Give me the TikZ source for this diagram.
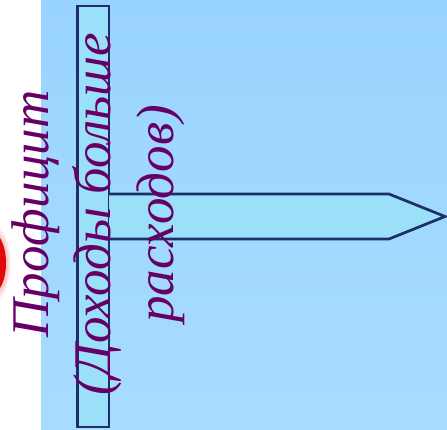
\documentclass[tikz,border=0pt]{standalone}
\usepackage{fontspec}
\setmainfont{Liberation Serif}
\definecolor{bgtop}{RGB}{153,212,255}
\definecolor{bgbot}{RGB}{168,220,255}
\definecolor{shapefill}{RGB}{153,224,248}
\definecolor{navy}{RGB}{31,45,105}
\definecolor{plum}{RGB}{102,0,102}
\definecolor{blobred}{RGB}{225,10,10}
\tikzset{
  panel/.style={draw=navy, line width=2.7pt, fill=shapefill, line join=miter},
  vlabel/.style={rotate=90, anchor=base, text=plum, font=\fontsize{53}{60}\selectfont\itshape, inner sep=0pt}
}
\begin{document}
\begin{tikzpicture}[x=1pt,y=1pt]
\useasboundingbox (0,0) rectangle (447,429);
\begin{scope}
\clip (0,0) rectangle (447,429);
\fill[white] (0,0) rectangle (41,429);
\shade[inner color=blobred, outer color=white] (-8,166) ellipse [x radius=19, y radius=40];
\fill[blobred] (-10,166) ellipse [x radius=16, y radius=32];
\shade[top color=bgtop, bottom color=bgbot] (41,0) rectangle (447,429);
\end{scope}
\node[panel, minimum width=31.5pt, minimum height=421pt, inner sep=0pt] (post) at (93.25,212.5) {};
\coordinate (a1) at (109,235);
\coordinate (a2) at (389,235);
\coordinate (tip) at (445,212.5);
\coordinate (a3) at (389,190);
\coordinate (a4) at (109,190);
\fill[shapefill] (a1) -- (a2) -- (tip) -- (a3) -- (a4) -- cycle;
\draw[draw=navy, line width=2.7pt, line join=miter] (a1) -- (a2) -- (tip) -- (a3) -- (a4);
\node[vlabel] (prof) at (48,215) {Профицит};
\node[vlabel] (line1) at (110,215) {(Доходы больше};
\node[vlabel] (line2) at (173,215) {расходов)};
\end{tikzpicture}
\end{document}
